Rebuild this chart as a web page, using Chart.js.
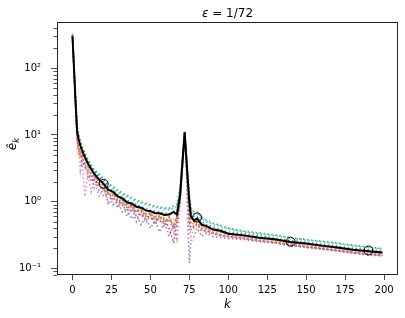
<!DOCTYPE html>
<html>
<head>
<meta charset="utf-8">
<script src="https://cdn.jsdelivr.net/npm/chart.js@4.4.1/dist/chart.umd.min.js"></script>
<style>
  html, body { margin: 0; padding: 0; background: #fff; }
  #wrap { width: 405px; height: 318px; }
</style>
</head>
<body>
<div id="wrap"><canvas id="chart" width="405" height="318"></canvas></div>
<script>
const kGrid = [0, 1, 2, 3, 4, 5, 6, 8, 10, 12,
  14, 17, 20, 23, 26, 29, 32, 35, 38, 41,
  44, 47, 50, 53, 56, 59, 62, 65, 67, 69,
  70, 71, 72, 73, 74, 75, 76, 78, 80, 83,
  86, 90, 95, 100, 110, 120, 130, 140, 150, 160,
  170, 180, 190, 199];

// mean (black line)
const meanErr = [300, 95, 30, 11, 8.5, 7, 6, 4.6, 3.7, 3.1,
  2.6, 2.15, 1.85, 1.5, 1.42, 1.2, 1.12, 0.98, 0.93, 0.84,
  0.81, 0.74, 0.72, 0.67, 0.67, 0.63, 0.64, 0.7, 0.64, 1.2,
  2.5, 5.2, 11, 4.8, 2.1, 1.0, 0.6, 0.52, 0.56, 0.45,
  0.43, 0.385, 0.365, 0.33, 0.312, 0.288, 0.272, 0.248, 0.236, 0.219,
  0.205, 0.19, 0.18, 0.172];

// individual runs (dotted)
const run0 = [305, 100, 32, 12, 9, 7.4, 6.2, 4.9, 3.9, 3.2,
  2.8, 2.3, 1.95, 1.65, 1.45, 1.3, 1.15, 1.05, 0.97, 0.9,
  0.84, 0.8, 0.75, 0.72, 0.7, 0.68, 0.66, 0.7, 0.72, 1.4,
  2.8, 5.5, 11, 5, 2.3, 1.1, 0.7, 0.6, 0.6, 0.5,
  0.45, 0.42, 0.38, 0.35, 0.33, 0.31, 0.28, 0.26, 0.245, 0.23,
  0.215, 0.2, 0.19, 0.18];
const run1 = [305, 92, 28, 9, 5, 6.2, 4.5, 3.8, 3.2, 2.6,
  2.4, 1.8, 1.7, 1.3, 1.35, 1.05, 1.05, 0.85, 0.9, 0.72,
  0.78, 0.62, 0.7, 0.55, 0.64, 0.5, 0.6, 0.45, 0.62, 1.1,
  2.3, 5, 10.5, 4.4, 1.8, 0.7, 0.45, 0.48, 0.5, 0.4,
  0.4, 0.36, 0.34, 0.32, 0.3, 0.28, 0.26, 0.24, 0.225, 0.21,
  0.198, 0.184, 0.174, 0.166];
const run2 = [310, 105, 34, 14, 10, 8.2, 7, 5.4, 4.3, 3.6,
  3.0, 2.6, 2.2, 1.85, 1.7, 1.5, 1.35, 1.25, 1.15, 1.05,
  1.0, 0.95, 0.9, 0.86, 0.83, 0.8, 0.8, 0.85, 0.9, 1.6,
  3.2, 6, 11.5, 5.6, 2.6, 1.3, 0.8, 0.7, 0.7, 0.58,
  0.52, 0.48, 0.44, 0.4, 0.36, 0.34, 0.315, 0.29, 0.27, 0.255,
  0.24, 0.222, 0.208, 0.198];
const run3 = [320, 90, 26, 8, 6, 4.8, 5, 3.4, 2.8, 2.7,
  2.0, 1.9, 1.5, 1.35, 1.1, 1.05, 0.88, 0.9, 0.7, 0.75,
  0.6, 0.66, 0.55, 0.6, 0.5, 0.56, 0.4, 0.24, 0.5, 1.0,
  2.2, 4.8, 10, 4.2, 1.6, 0.5, 0.4, 0.42, 0.46, 0.36,
  0.37, 0.33, 0.31, 0.3, 0.28, 0.26, 0.245, 0.225, 0.21, 0.198,
  0.185, 0.172, 0.163, 0.156];
const run4 = [300, 93, 29, 10, 7, 5.5, 3.5, 3.9, 2.2, 2.5,
  1.6, 1.9, 1.2, 1.35, 0.9, 1.0, 0.7, 0.8, 0.55, 0.65,
  0.45, 0.58, 0.4, 0.52, 0.35, 0.5, 0.3, 0.45, 0.28, 0.9,
  2.0, 4.5, 9.5, 3.8, 0.5, 0.12, 0.25, 0.3, 0.4, 0.3,
  0.34, 0.3, 0.29, 0.28, 0.27, 0.25, 0.24, 0.22, 0.205, 0.195,
  0.182, 0.17, 0.16, 0.155];
const run5 = [298, 96, 30, 11, 8, 6.8, 5.8, 4.4, 3.6, 3.0,
  2.5, 1.8, 1.8, 1.3, 1.35, 1.0, 1.07, 0.82, 0.88, 0.7,
  0.77, 0.6, 0.68, 0.52, 0.62, 0.5, 0.58, 0.42, 0.6, 1.2,
  2.5, 5.2, 11, 4.7, 2.0, 0.9, 0.55, 0.5, 0.54, 0.44,
  0.41, 0.38, 0.355, 0.33, 0.305, 0.285, 0.265, 0.245, 0.232, 0.216,
  0.202, 0.188, 0.178, 0.17];
const run6 = [335, 98, 27, 8, 5.5, 3, 4.5, 1.2, 2.8, 1.4,
  2.1, 1.2, 1.6, 1.0, 1.25, 0.85, 1.0, 0.7, 0.85, 0.6,
  0.72, 0.55, 0.65, 0.48, 0.6, 0.42, 0.55, 0.35, 0.55, 1.1,
  2.4, 5, 10, 4.0, 1.4, 0.35, 0.3, 0.4, 0.45, 0.38,
  0.35, 0.33, 0.31, 0.29, 0.275, 0.255, 0.238, 0.22, 0.206, 0.192,
  0.18, 0.168, 0.158, 0.152];
const run7 = [302, 94, 29, 10, 7.5, 6, 5, 3.2, 3.3, 2.0,
  2.3, 1.5, 1.7, 0.9, 1.25, 0.8, 1.0, 0.6, 0.85, 0.5,
  0.7, 0.48, 0.62, 0.45, 0.58, 0.42, 0.55, 0.38, 0.5, 1.0,
  2.3, 4.9, 10.5, 4.3, 1.7, 0.6, 0.38, 0.44, 0.48, 0.4,
  0.38, 0.345, 0.32, 0.305, 0.285, 0.265, 0.245, 0.228, 0.214, 0.2,
  0.186, 0.175, 0.165, 0.16];
const run8 = [300, 96, 31, 11.5, 7, 7, 5.2, 4.5, 3.4, 3.0,
  2.4, 2.1, 1.7, 1.5, 1.3, 1.15, 1.02, 0.95, 0.85, 0.8,
  0.72, 0.7, 0.63, 0.62, 0.58, 0.58, 0.5, 0.55, 0.55, 1.15,
  2.5, 5.3, 11, 4.6, 1.9, 0.8, 0.5, 0.48, 0.52, 0.43,
  0.4, 0.37, 0.35, 0.325, 0.3, 0.283, 0.262, 0.243, 0.228, 0.213,
  0.2, 0.186, 0.176, 0.168];
const run9 = [308, 102, 33, 13, 9.5, 7.8, 6.6, 5.1, 4.1, 3.4,
  2.9, 2.45, 2.1, 1.75, 1.6, 1.4, 1.28, 1.18, 1.08, 1.0,
  0.95, 0.9, 0.86, 0.82, 0.8, 0.76, 0.76, 0.8, 0.85, 1.5,
  3.0, 5.8, 11.2, 5.4, 2.5, 1.2, 0.75, 0.66, 0.66, 0.56,
  0.5, 0.46, 0.42, 0.39, 0.35, 0.33, 0.305, 0.283, 0.265, 0.25,
  0.235, 0.218, 0.205, 0.195];
const runs = [run0, run1, run2, run3, run4, run5, run6, run7, run8, run9];

// open circle markers
const circleK = [20, 80, 140, 190];
const circleVals = [1.85, 0.58, 0.25, 0.185];

// ticks
const xTicks = [0, 25, 50, 75, 100, 125, 150, 175, 200];
const yMajorTicks = [0.1, 1, 10, 100];
const yTickLabels = ['10\u207B\u00B9', '10\u2070', '10\u00B9', '10\u00B2'];

const tab10 = ['#1f77b4', '#ff7f0e', '#2ca02c', '#d62728', '#9467bd',
  '#8c564b', '#e377c2', '#7f7f7f', '#bcbd22', '#17becf'];

const yMin = 0.0794, yMax = 495;
const yAllTicks = [];
for (let d = -2; d <= 2; d++) {
  for (let m = 1; m <= 9; m++) {
    const v = m * Math.pow(10, d);
    if (v >= yMin && v <= yMax) yAllTicks.push(v);
  }
}
function isMajor(v) {
  return yMajorTicks.some(t => Math.abs(t - v) / t < 1e-6);
}
function rgba(hex, a) {
  const n = parseInt(hex.slice(1), 16);
  return `rgba(${n >> 16},${(n >> 8) & 255},${n & 255},${a})`;
}

const datasets = [];
datasets.push({
  data: circleK.map((k, i) => ({ x: k, y: circleVals[i] })),
  showLine: false,
  pointRadius: 4.5,
  pointBorderColor: '#000',
  pointBackgroundColor: 'rgba(0,0,0,0)',
  pointBorderWidth: 1,
  order: 0
});
datasets.push({
  data: kGrid.map((k, i) => ({ x: k, y: meanErr[i] })),
  borderColor: '#000',
  borderWidth: 2,
  pointRadius: 0,
  tension: 0,
  order: 1
});
runs.forEach((vals, r) => {
  datasets.push({
    data: kGrid.map((k, i) => ({ x: k, y: vals[i] })),
    borderColor: rgba(tab10[r], 0.85),
    borderWidth: 1.6,
    borderDash: [1.5, 2.5],
    pointRadius: 0,
    tension: 0,
    order: 2
  });
});

const FONT = 'DejaVu Sans';

const decor = {
  id: 'decor',
  afterDatasetsDraw(chart) {
    const { ctx, chartArea: a } = chart;
    ctx.save();
    ctx.strokeStyle = '#222';
    ctx.lineWidth = 1;
    ctx.strokeRect(Math.round(a.left) + 0.5, Math.round(a.top) + 0.5,
      Math.round(a.right - a.left) - 1, Math.round(a.bottom - a.top) - 1);
    ctx.restore();
  },
  afterDraw(chart) {
    const { ctx, chartArea: a, scales } = chart;
    ctx.save();
    // minor ticks on the log axis
    ctx.strokeStyle = '#222';
    ctx.lineWidth = 0.8;
    yAllTicks.forEach(v => {
      if (isMajor(v)) return;
      const py = Math.round(scales.y.getPixelForValue(v)) + 0.5;
      ctx.beginPath();
      ctx.moveTo(a.left, py);
      ctx.lineTo(a.left - 3.5, py);
      ctx.stroke();
    });

    ctx.fillStyle = '#000';
    // title
    const cx = (a.left + a.right) / 2;
    ctx.textBaseline = 'alphabetic';
    ctx.font = `italic 12px "${FONT}"`;
    const w1 = ctx.measureText('\u03B5').width;
    ctx.font = `12px "${FONT}"`;
    const w2 = ctx.measureText(' = 1/72').width;
    let x0 = cx - (w1 + w2) / 2;
    ctx.textAlign = 'left';
    ctx.font = `italic 12px "${FONT}"`;
    ctx.fillText('\u03B5', x0, 16.5);
    ctx.font = `12px "${FONT}"`;
    ctx.fillText(' = 1/72', x0 + w1, 16.5);

    // x label
    ctx.textAlign = 'center';
    ctx.font = `italic 12px "${FONT}"`;
    ctx.fillText('k', cx, 307.5);

    // y label
    ctx.translate(16, 144);
    ctx.rotate(-Math.PI / 2);
    ctx.font = `italic 12px "${FONT}"`;
    const we = ctx.measureText('\u00EA').width;
    ctx.font = `italic 8.5px "${FONT}"`;
    const wk = ctx.measureText('k').width;
    const s = -(we + wk) / 2;
    ctx.textAlign = 'left';
    ctx.font = `italic 12px "${FONT}"`;
    ctx.fillText('\u00EA', s, 0);
    ctx.font = `italic 8.5px "${FONT}"`;
    ctx.fillText('k', s + we, 2.5);
    ctx.restore();
  }
};

new Chart(document.getElementById('chart'), {
  type: 'line',
  data: { datasets },
  options: {
    responsive: false,
    animation: false,
    devicePixelRatio: 1,
    events: [],
    layout: { padding: { top: 22, right: 7, left: 0, bottom: 0 } },
    plugins: { legend: { display: false }, tooltip: { enabled: false }, title: { display: false } },
    scales: {
      x: {
        type: 'linear',
        min: -9.95,
        max: 208.95,
        afterBuildTicks: s => { s.ticks = xTicks.map(v => ({ value: v })); },
        afterFit: s => { s.height = 43; },
        grid: { drawOnChartArea: false, tickLength: 5, tickColor: '#222', tickWidth: 0.8 },
        border: { display: false },
        ticks: { font: { family: FONT, size: 10 }, color: '#000', padding: 4, maxRotation: 0, autoSkip: false }
      },
      y: {
        type: 'logarithmic',
        min: yMin,
        max: yMax,
        afterBuildTicks: s => { s.ticks = yAllTicks.map(v => ({ value: v })); },
        afterFit: s => { s.width = 57; },
        grid: {
          drawOnChartArea: false,
          tickLength: 6,
          tickWidth: 0.8,
          tickColor: c => (c.tick && isMajor(c.tick.value)) ? '#222' : 'rgba(0,0,0,0)'
        },
        border: { display: false },
        ticks: {
          font: { family: FONT, size: 10 },
          color: '#000',
          padding: 10,
          autoSkip: false,
          callback: v => {
            const i = yMajorTicks.findIndex(t => Math.abs(t - v) / t < 1e-6);
            return i >= 0 ? yTickLabels[i] : '';
          }
        }
      }
    }
  },
  plugins: [decor]
});
</script>
</body>
</html>
